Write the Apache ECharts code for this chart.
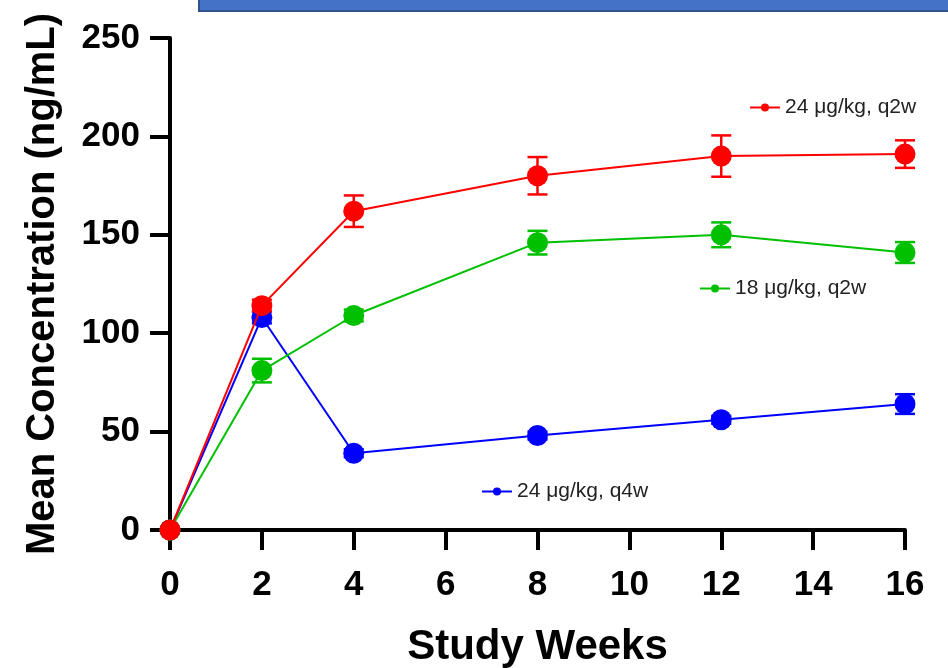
<!DOCTYPE html>
<html>
<head>
<meta charset="utf-8">
<script src="https://cdn.jsdelivr.net/npm/echarts@6/dist/echarts.min.js"></script>
<style>
html,body{margin:0;padding:0;background:#fff;}
#chart{width:948px;height:668px;}
</style>
</head>
<body>
<div id="chart"></div>
<script>
// ---- data ----
var weeks = [0, 2, 4, 8, 12, 16];
var xTicks = [0, 2, 4, 6, 8, 10, 12, 14, 16];
var yTicks = [0, 50, 100, 150, 200, 250];

var seriesNames = ['24 μg/kg, q4w', '18 μg/kg, q2w', '24 μg/kg, q2w'];
var blueMean = [0, 108, 39, 48, 56, 64];
var blueErr  = [0, 3, 2, 2, 2, 5];
var greenMean = [0, 81, 109, 146, 150, 141];
var greenErr  = [0, 6, 3, 6, 6.3, 5.3];
var redMean = [0, 114, 162, 180, 190, 191];
var redErr  = [0, 3, 8, 9.5, 10.5, 7];

var colors = ['#0000FF', '#00C000', '#FF0000'];
var means = [blueMean, greenMean, redMean];
var errs = [blueErr, greenErr, redErr];

function pairs(xs, ys) {
  return xs.map(function (x, i) { return [x, ys[i]]; });
}
function errData(xs, ys, es) {
  return xs.map(function (x, i) { return [x, ys[i] - es[i], ys[i] + es[i]]; });
}

var chart = echarts.init(document.getElementById('chart'), null, {renderer: 'canvas'});

var series = [];
// error bars (drawn below markers)
means.forEach(function (m, k) {
  series.push({
    type: 'custom',
    name: seriesNames[k] + ' err',
    z: 1,
    clip: false,
    silent: true,
    data: errData(weeks, m, errs[k]),
    renderItem: function (params, api) {
      var x = api.value(0);
      var lo = api.coord([x, api.value(1)]);
      var hi = api.coord([x, api.value(2)]);
      var hw = 10;
      var st = {stroke: colors[k], lineWidth: 2.5, fill: null};
      return {
        type: 'group',
        children: [
          {type: 'line', shape: {x1: lo[0], y1: lo[1], x2: hi[0], y2: hi[1]}, style: st},
          {type: 'line', shape: {x1: lo[0] - hw, y1: lo[1], x2: lo[0] + hw, y2: lo[1]}, style: st},
          {type: 'line', shape: {x1: hi[0] - hw, y1: hi[1], x2: hi[0] + hw, y2: hi[1]}, style: st}
        ]
      };
    }
  });
});
// lines with markers
means.forEach(function (m, k) {
  series.push({
    type: 'line',
    name: seriesNames[k],
    z: 3 + k,
    clip: false,
    data: pairs(weeks, m),
    symbol: 'circle',
    symbolSize: 21,
    showAllSymbol: true,
    lineStyle: {color: colors[k], width: 2},
    itemStyle: {color: colors[k]},
    emphasis: {disabled: true},
    animation: false
  });
});

function legendAt(name, left, top) {
  return {
    data: [name],
    left: left,
    top: top,
    itemWidth: 30,
    itemHeight: 10,
    itemGap: 10,
    selectedMode: false,
    textStyle: {fontFamily: 'Liberation Sans, Arial, sans-serif', fontSize: 21, color: '#222'}
  };
}

var option = {
  animation: false,
  backgroundColor: '#ffffff',
  color: colors,
  grid: {left: 170, right: 43, top: 38, bottom: 138, containLabel: false, outerBoundsMode: 'none'},
  legend: [
    legendAt(seriesNames[2], 744, 92),
    legendAt(seriesNames[1], 694, 273),
    legendAt(seriesNames[0], 476, 476)
  ],
  xAxis: {
    type: 'value',
    min: xTicks[0],
    max: xTicks[xTicks.length - 1],
    interval: 2,
    name: 'Study Weeks',
    nameLocation: 'middle',
    nameGap: 96,
    nameTextStyle: {fontFamily: 'Liberation Sans, Arial, sans-serif', fontWeight: 'bold', fontSize: 42, color: '#000'},
    axisLine: {show: true, onZero: false, lineStyle: {color: '#000', width: 4}},
    axisTick: {show: true, length: 20, lineStyle: {color: '#000', width: 4}},
    axisLabel: {margin: 38, fontFamily: 'Liberation Sans, Arial, sans-serif', fontWeight: 'bold', fontSize: 35, color: '#000'},
    splitLine: {show: false}
  },
  yAxis: {
    type: 'value',
    min: yTicks[0],
    max: yTicks[yTicks.length - 1],
    interval: 50,
    name: 'Mean Concentration (ng/mL)',
    nameLocation: 'middle',
    nameGap: 107,
    nameTextStyle: {fontFamily: 'Liberation Sans, Arial, sans-serif', fontWeight: 'bold', fontSize: 40, color: '#000'},
    axisLine: {show: true, onZero: false, lineStyle: {color: '#000', width: 4}},
    axisTick: {show: true, length: 20, lineStyle: {color: '#000', width: 4}},
    axisLabel: {margin: 30, fontFamily: 'Liberation Sans, Arial, sans-serif', fontWeight: 'bold', fontSize: 35, color: '#000'},
    splitLine: {show: false}
  },
  graphic: [{
    type: 'rect',
    z: 100,
    shape: {x: 199, y: -10, width: 770, height: 21},
    style: {fill: '#4472C4', stroke: '#2F528F', lineWidth: 2}
  }],
  series: series
};
chart.setOption(option);
</script>
</body>
</html>
